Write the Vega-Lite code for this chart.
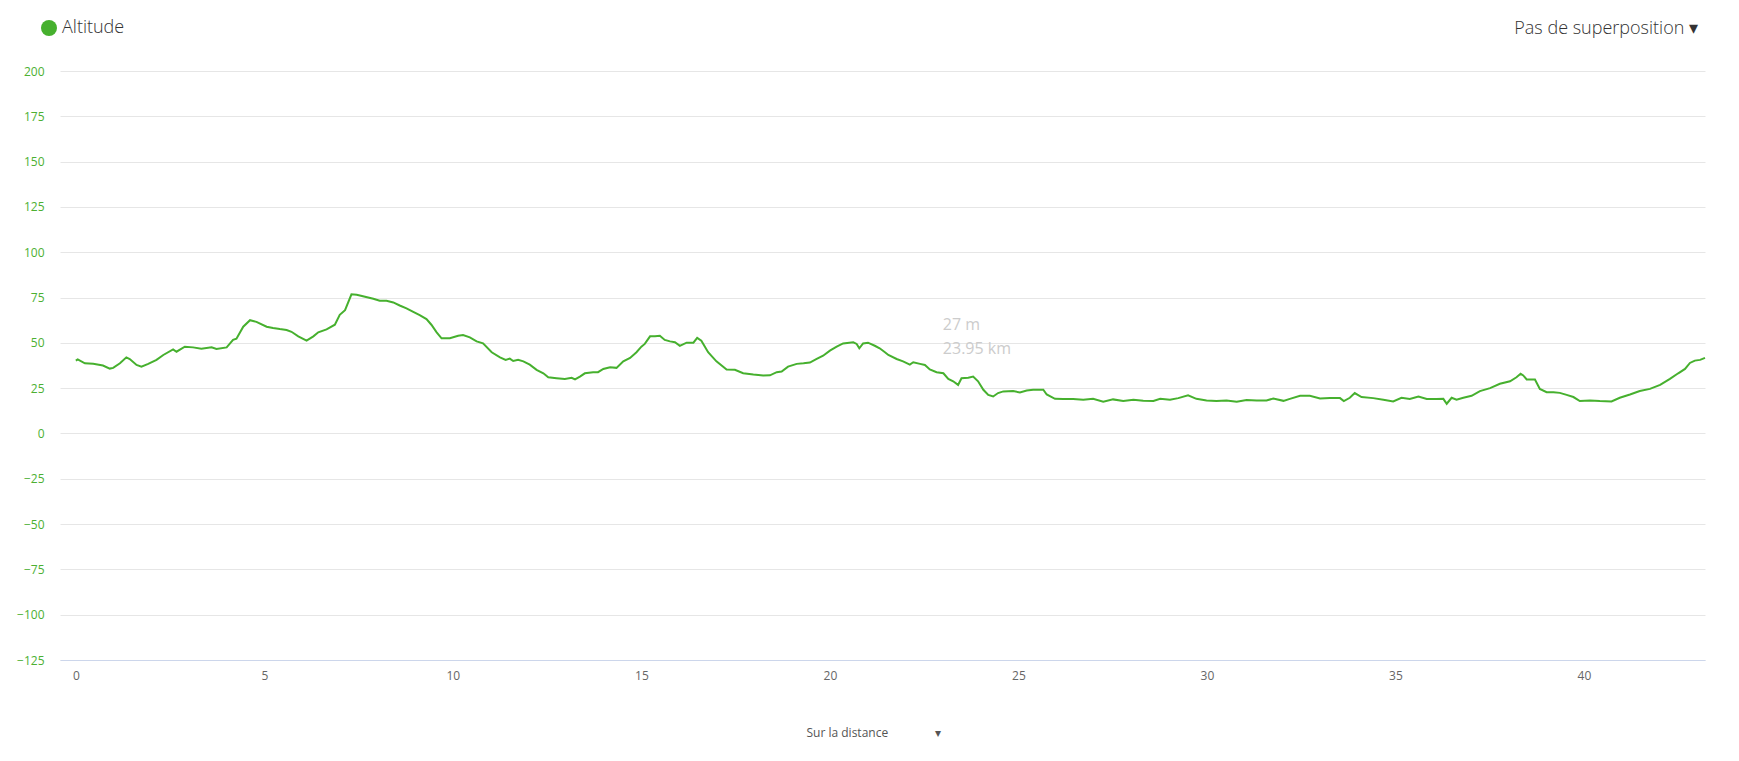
{
  "$schema": "https://vega.github.io/schema/vega-lite/v6.json",
  "width": 1645,
  "height": 589,
  "autosize": {"type": "none"},
  "padding": {"left": 60, "top": 71, "right": 34, "bottom": 101},
  "background": "white",
  "config": {"view": {"stroke": null}, "font": "Open Sans"},
  "title": {"text": "Pas de superposition ▾", "anchor": "end", "orient": "top", "fontSize": 18, "fontWeight": 300, "color": "#333333", "offset": 0, "dx": -11, "dy": 19},
  "datasets": {
    "profile": [
      {"d":0.00,"a":40.2},{"d":0.05,"a":40.9},{"d":0.24,"a":38.7},{"d":0.46,"a":38.4},{"d":0.72,"a":37.5},{"d":0.90,"a":35.8},{"d":0.99,"a":36.2},{"d":1.17,"a":38.7},{"d":1.34,"a":42.0},{"d":1.43,"a":41.1},{"d":1.61,"a":37.8},{"d":1.74,"a":36.9},{"d":1.92,"a":38.4},{"d":2.14,"a":40.6},{"d":2.32,"a":43.3},{"d":2.58,"a":46.4},{"d":2.67,"a":45.1},{"d":2.89,"a":47.9},{"d":3.11,"a":47.5},{"d":3.33,"a":46.8},{"d":3.60,"a":47.5},{"d":3.73,"a":46.6},{"d":4.00,"a":47.5},{"d":4.17,"a":51.7},{"d":4.26,"a":52.3},{"d":4.44,"a":58.9},{"d":4.62,"a":62.5},{"d":4.79,"a":61.6},{"d":5.06,"a":58.9},{"d":5.23,"a":58.2},{"d":5.41,"a":57.6},{"d":5.59,"a":57.1},{"d":5.72,"a":56.1},{"d":5.90,"a":53.6},{"d":6.12,"a":51.2},{"d":6.30,"a":53.6},{"d":6.43,"a":55.8},{"d":6.65,"a":57.4},{"d":6.87,"a":60.0},{"d":7.00,"a":65.5},{"d":7.14,"a":68.0},{"d":7.31,"a":76.8},{"d":7.45,"a":76.5},{"d":7.67,"a":75.4},{"d":7.89,"a":74.3},{"d":8.06,"a":73.2},{"d":8.24,"a":73.2},{"d":8.42,"a":72.3},{"d":8.59,"a":70.6},{"d":8.77,"a":69.0},{"d":8.95,"a":67.1},{"d":9.12,"a":65.3},{"d":9.30,"a":63.1},{"d":9.43,"a":60.0},{"d":9.57,"a":55.8},{"d":9.70,"a":52.5},{"d":9.92,"a":52.5},{"d":10.14,"a":53.9},{"d":10.27,"a":54.3},{"d":10.45,"a":53.0},{"d":10.63,"a":50.8},{"d":10.80,"a":49.7},{"d":11.03,"a":44.8},{"d":11.25,"a":42.0},{"d":11.40,"a":40.6},{"d":11.51,"a":41.3},{"d":11.60,"a":40.0},{"d":11.73,"a":40.6},{"d":11.87,"a":39.8},{"d":12.04,"a":38.0},{"d":12.22,"a":35.1},{"d":12.40,"a":33.2},{"d":12.53,"a":31.0},{"d":12.75,"a":30.5},{"d":12.97,"a":30.1},{"d":13.15,"a":30.7},{"d":13.24,"a":29.8},{"d":13.37,"a":31.4},{"d":13.50,"a":33.2},{"d":13.72,"a":33.8},{"d":13.85,"a":33.8},{"d":13.99,"a":35.6},{"d":14.17,"a":36.5},{"d":14.34,"a":36.2},{"d":14.52,"a":39.8},{"d":14.70,"a":41.7},{"d":14.87,"a":44.8},{"d":15.00,"a":47.9},{"d":15.09,"a":49.4},{"d":15.23,"a":53.6},{"d":15.36,"a":53.6},{"d":15.49,"a":53.9},{"d":15.62,"a":51.6},{"d":15.76,"a":50.8},{"d":15.89,"a":50.3},{"d":16.02,"a":48.3},{"d":16.20,"a":50.1},{"d":16.38,"a":50.1},{"d":16.48,"a":52.7},{"d":16.59,"a":51.2},{"d":16.77,"a":44.8},{"d":16.99,"a":39.8},{"d":17.26,"a":35.3},{"d":17.48,"a":35.1},{"d":17.70,"a":33.2},{"d":17.97,"a":32.5},{"d":18.23,"a":32.0},{"d":18.41,"a":32.1},{"d":18.59,"a":33.8},{"d":18.72,"a":34.2},{"d":18.89,"a":36.9},{"d":19.12,"a":38.4},{"d":19.30,"a":38.7},{"d":19.47,"a":39.1},{"d":19.65,"a":41.1},{"d":19.82,"a":42.9},{"d":20.00,"a":45.7},{"d":20.18,"a":47.9},{"d":20.35,"a":49.7},{"d":20.62,"a":50.3},{"d":20.71,"a":49.4},{"d":20.78,"a":47.0},{"d":20.88,"a":49.7},{"d":21.01,"a":50.1},{"d":21.19,"a":48.4},{"d":21.32,"a":47.0},{"d":21.46,"a":44.8},{"d":21.55,"a":43.3},{"d":21.77,"a":41.1},{"d":21.94,"a":39.8},{"d":22.12,"a":38.0},{"d":22.21,"a":39.3},{"d":22.39,"a":38.4},{"d":22.52,"a":37.8},{"d":22.65,"a":35.3},{"d":22.83,"a":33.8},{"d":23.01,"a":33.2},{"d":23.14,"a":30.1},{"d":23.27,"a":28.8},{"d":23.40,"a":26.8},{"d":23.49,"a":30.5},{"d":23.67,"a":30.7},{"d":23.80,"a":31.4},{"d":23.93,"a":28.8},{"d":24.07,"a":24.1},{"d":24.20,"a":21.3},{"d":24.33,"a":20.4},{"d":24.46,"a":22.3},{"d":24.60,"a":23.2},{"d":24.86,"a":23.4},{"d":25.04,"a":22.6},{"d":25.22,"a":23.7},{"d":25.39,"a":24.1},{"d":25.66,"a":24.1},{"d":25.75,"a":21.5},{"d":25.97,"a":19.1},{"d":26.19,"a":19.0},{"d":26.45,"a":19.0},{"d":26.72,"a":18.6},{"d":26.98,"a":19.1},{"d":27.25,"a":17.5},{"d":27.51,"a":18.8},{"d":27.78,"a":17.9},{"d":28.05,"a":18.6},{"d":28.31,"a":18.0},{"d":28.58,"a":17.9},{"d":28.76,"a":19.1},{"d":29.02,"a":18.6},{"d":29.24,"a":19.5},{"d":29.50,"a":21.0},{"d":29.72,"a":19.1},{"d":29.99,"a":18.2},{"d":30.25,"a":17.9},{"d":30.52,"a":18.2},{"d":30.79,"a":17.5},{"d":31.05,"a":18.4},{"d":31.32,"a":18.2},{"d":31.58,"a":18.2},{"d":31.76,"a":19.3},{"d":32.03,"a":18.0},{"d":32.20,"a":19.1},{"d":32.47,"a":20.8},{"d":32.73,"a":20.8},{"d":33.00,"a":19.3},{"d":33.26,"a":19.5},{"d":33.53,"a":19.5},{"d":33.63,"a":17.9},{"d":33.79,"a":19.7},{"d":33.92,"a":22.3},{"d":34.10,"a":20.1},{"d":34.41,"a":19.5},{"d":34.68,"a":18.6},{"d":34.94,"a":17.7},{"d":35.16,"a":19.7},{"d":35.38,"a":19.0},{"d":35.61,"a":20.4},{"d":35.83,"a":19.0},{"d":36.09,"a":19.0},{"d":36.27,"a":19.1},{"d":36.36,"a":16.4},{"d":36.49,"a":19.7},{"d":36.62,"a":18.6},{"d":36.80,"a":19.7},{"d":37.02,"a":20.8},{"d":37.24,"a":23.4},{"d":37.51,"a":25.0},{"d":37.77,"a":27.4},{"d":38.04,"a":28.8},{"d":38.21,"a":31.0},{"d":38.32,"a":32.9},{"d":38.39,"a":32.0},{"d":38.48,"a":29.8},{"d":38.70,"a":29.8},{"d":38.83,"a":24.6},{"d":39.01,"a":22.8},{"d":39.19,"a":22.8},{"d":39.36,"a":22.4},{"d":39.54,"a":21.3},{"d":39.72,"a":20.1},{"d":39.89,"a":17.9},{"d":40.16,"a":18.2},{"d":40.42,"a":17.9},{"d":40.73,"a":17.7},{"d":40.95,"a":19.7},{"d":41.22,"a":21.5},{"d":41.48,"a":23.4},{"d":41.75,"a":24.6},{"d":42.02,"a":26.8},{"d":42.28,"a":30.1},{"d":42.50,"a":33.2},{"d":42.68,"a":35.6},{"d":42.81,"a":38.9},{"d":42.94,"a":40.2},{"d":43.08,"a":40.6},{"d":43.21,"a":41.7}
    ],
    "tip": [{"d": 23.95, "a": 27, "label": "27 m\n23.95 km"}]
  },
  "layer": [
    {
      "data": {"name": "profile"},
      "mark": {"type": "line", "strokeWidth": 2, "interpolate": "linear"},
      "encoding": {
        "x": {"field": "d", "type": "quantitative",
          "scale": {"domain": [-0.42, 43.21], "nice": false, "zero": false},
          "axis": {"title": "Sur la distance\u00a0\u00a0\u00a0\u00a0\u00a0\u00a0\u00a0\u00a0\u00a0\u00a0\u00a0\u00a0\u00a0\u00a0\u00a0▾", "titleFontSize": 12, "titleFontWeight": "normal", "titleColor": "#555555", "titleAlign": "left", "titleX": 746, "titleY": 72, "titleBaseline": "middle",
            "values": [0,5,10,15,20,25,30,35,40], "grid": false, "ticks": false, "domainColor": "#ccd6eb", "domainWidth": 1, "labelColor": "#666666", "labelFontSize": 12, "labelPadding": 10}},
        "y": {"field": "a", "type": "quantitative",
          "scale": {"domain": [-125, 200], "nice": false, "zero": false},
          "axis": {"title": null, "values": [-125,-100,-75,-50,-25,0,25,50,75,100,125,150,175,200], "grid": true, "gridColor": "#e6e6e6", "domain": false, "ticks": false, "labelColor": "#4cb032", "labelFontSize": 12, "labelPadding": 16}},
        "color": {"datum": "Altitude", "type": "nominal", "scale": {"range": ["#46b02e"]},
          "legend": {"title": null, "orient": "none", "legendX": -20, "legendY": -52, "symbolType": "circle", "symbolSize": 256, "symbolFillColor": "#46b02e", "symbolStrokeColor": "#46b02e", "symbolStrokeWidth": 0, "labelFontSize": 18, "labelFontWeight": 300, "labelColor": "#333333", "labelOffset": 4}}
      }
    },
    {
      "data": {"name": "tip"},
      "mark": {"type": "text", "align": "left", "baseline": "top", "dx": -36, "dy": -68, "fontSize": 16, "color": "#cccccc", "lineBreak": "\n", "lineHeight": 24},
      "encoding": {
        "x": {"field": "d", "type": "quantitative"},
        "y": {"field": "a", "type": "quantitative"},
        "text": {"field": "label"}
      }
    }
  ]
}
